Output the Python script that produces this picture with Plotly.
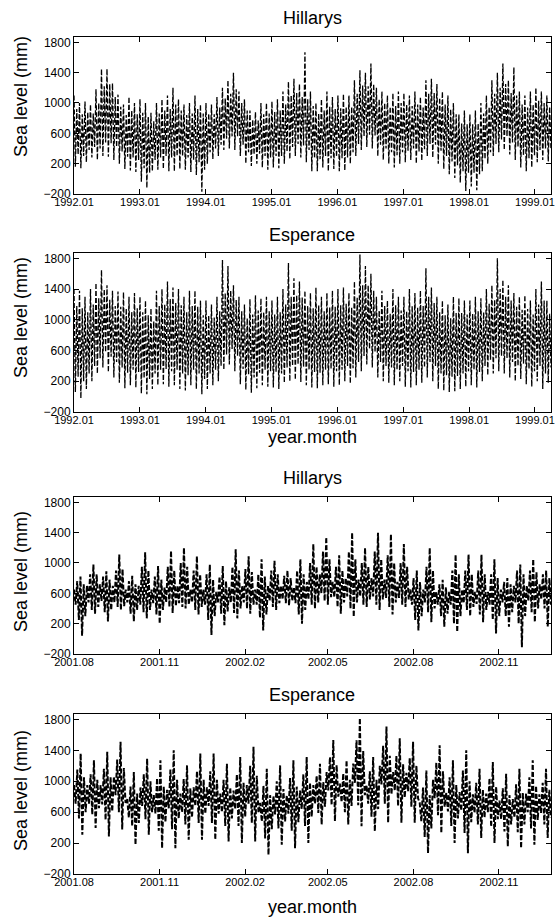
import plotly.graph_objects as go
import pandas as pd

# ---------------- tick labels ----------------
long_tick_text = ["1992.01", "1993.01", "1994.01", "1995.01", "1996.01", "1997.01", "1998.01", "1999.01"]
long_tick_vals = ["1992-01-01", "1993-01-01", "1994-01-01", "1995-01-01", "1996-01-01", "1997-01-01", "1998-01-01", "1999-01-01"]
long_range = ["1992-01-01", "1999-03-31"]

short_tick_text = ["2001.08", "2001.11", "2002.02", "2002.05", "2002.08", "2002.11"]
short_tick_vals = ["2001-08-01", "2001-11-01", "2002-02-01", "2002-05-01", "2002-08-01", "2002-11-01"]
short_range = ["2001-08-01", "2002-12-27"]

y_tick_vals = [-200, 200, 600, 1000, 1400, 1800]

# ---------------- sea level readings (mm), successive high / low tide extremes ----------------
hillarys_1992_1999 = [
    1100, 160, 920, 320, 1000, 140, 850, 300, 1020, 220, 880, 380, 980, 280, 860, 420, 1180, 250, 1000, 400, 1450, 300, 1220, 480,
    1450, 290, 1250, 470, 1260, 250, 1080, 420, 1110, 200, 950, 360, 980, 130, 840, 290, 1080, 110, 900, 280, 1000, 90, 850, 250,
    1050, -40, 870, 140, 1000, -120, 820, 80, 870, 100, 760, 250, 1000, 120, 860, 280, 1050, 130, 900, 300, 1100, 100, 920, 280,
    1200, 100, 980, 300, 1050, 130, 900, 300, 980, 120, 840, 280, 1000, 90, 860, 250, 1100, 50, 920, 220, 980, -170, 860, 120,
    1000, 200, 860, 350, 980, 260, 850, 400, 1080, 300, 940, 450, 1200, 380, 1060, 530, 1300, 400, 1120, 560, 1400, 380, 1180, 560,
    1150, 300, 1000, 450, 1050, 200, 900, 350, 900, 170, 780, 320, 880, 200, 770, 330, 1000, 150, 850, 300, 1000, 120, 860, 280,
    1020, 150, 880, 300, 1050, 140, 900, 300, 1150, 200, 980, 360, 1280, 260, 1100, 420, 1320, 300, 1130, 460, 1250, 280, 1080, 440,
    1670, 220, 1050, 380, 1150, 100, 960, 270, 1000, 100, 860, 260, 1050, 150, 900, 300, 1150, 100, 950, 270, 1080, 130, 920, 290,
    1100, 100, 930, 270, 1120, 110, 950, 280, 1100, 200, 950, 350, 1300, 300, 1120, 460, 1430, 380, 1230, 560, 1400, 420, 1220, 580,
    1520, 400, 1250, 570, 1200, 300, 1050, 450, 1150, 250, 1000, 400, 1100, 200, 950, 350, 1130, 150, 960, 310, 1150, 200, 1000, 350,
    1130, 220, 980, 370, 1100, 250, 960, 400, 1150, 200, 980, 360, 1080, 240, 940, 390, 1300, 300, 1120, 460, 1320, 280, 1130, 450,
    1250, 200, 1070, 370, 1150, 130, 980, 300, 1100, 60, 920, 230, 1000, 10, 850, 180, 850, -50, 730, 100, 900, -160, 720, 80,
    850, -100, 720, 80, 900, -150, 730, 60, 1000, 100, 860, 260, 1100, 200, 950, 350, 1300, 300, 1120, 460, 1400, 350, 1200, 520,
    1520, 380, 1250, 560, 1300, 320, 1130, 480, 1470, 250, 1100, 420, 1150, 150, 980, 310, 1100, 100, 940, 270, 1150, 150, 980, 310,
    1200, 220, 1030, 380, 1150, 250, 1000, 400, 1100, 230, 950, 380,
]

esperance_1992_1999 = [
    1400, 60, 1180, 260, 1380, -20, 1150, 200, 1300, 100, 1100, 300, 1400, 200, 1200, 400, 1480, 300, 1280, 500, 1650, 380, 1400, 580,
    1450, 320, 1260, 520, 1380, 250, 1180, 450, 1370, 180, 1170, 380, 1360, 110, 1150, 310, 1300, 150, 1100, 350, 1350, 120, 1150, 320,
    1300, 40, 1100, 240, 1250, 30, 1060, 230, 1150, 100, 980, 300, 1380, 150, 1180, 350, 1400, 160, 1200, 360, 1500, 130, 1270, 330,
    1420, 150, 1220, 350, 1400, 100, 1190, 300, 1300, 80, 1100, 280, 1380, 150, 1180, 350, 1380, 100, 1170, 300, 1250, 30, 1060, 230,
    1250, 100, 1060, 300, 1200, 150, 1030, 350, 1300, 200, 1110, 400, 1780, 350, 1350, 550, 1700, 420, 1380, 620, 1450, 330, 1260, 530,
    1300, 160, 1110, 360, 1200, 90, 1020, 290, 1270, 50, 1070, 250, 1320, 110, 1120, 310, 1280, 150, 1100, 350, 1300, 130, 1110, 330,
    1250, 120, 1070, 320, 1300, 100, 1100, 300, 1400, 180, 1200, 380, 1740, 200, 1300, 400, 1540, 220, 1320, 420, 1500, 190, 1290, 390,
    1380, 150, 1180, 350, 1350, 120, 1150, 320, 1420, 110, 1190, 310, 1300, 150, 1110, 350, 1350, 160, 1160, 360, 1380, 130, 1170, 330,
    1400, 150, 1190, 350, 1420, 200, 1210, 400, 1350, 170, 1160, 370, 1500, 250, 1290, 450, 1850, 330, 1450, 530, 1700, 420, 1450, 620,
    1600, 380, 1380, 580, 1300, 250, 1120, 450, 1380, 200, 1180, 400, 1250, 180, 1080, 380, 1400, 150, 1190, 350, 1300, 200, 1120, 400,
    1300, 130, 1110, 330, 1400, 120, 1180, 320, 1350, 150, 1160, 350, 1380, 180, 1180, 380, 1670, 250, 1300, 450, 1420, 200, 1220, 400,
    1300, 100, 1100, 300, 1250, 80, 1060, 280, 1200, 60, 1020, 260, 1300, 70, 1090, 270, 1280, 100, 1090, 300, 1250, 130, 1070, 330,
    1250, 150, 1080, 350, 1300, 120, 1110, 320, 1280, 200, 1100, 400, 1400, 280, 1210, 480, 1450, 300, 1260, 500, 1800, 330, 1400, 530,
    1520, 300, 1300, 500, 1450, 250, 1250, 450, 1350, 200, 1170, 400, 1300, 230, 1130, 430, 1320, 160, 1140, 360, 1250, 130, 1070, 330,
    1400, 200, 1200, 400, 1500, 100, 1250, 300, 1250, 180, 1080, 380,
]

hillarys_2001_2002 = [
    650, 450, 760, 250, 820, 40, 720, 300,
    700, 480, 850, 380, 980, 330, 850, 420,
    720, 500, 820, 350, 890, 230, 780, 380,
    700, 480, 900, 420, 1110, 380, 920, 430,
    650, 480, 760, 330, 830, 230, 720, 380,
    700, 450, 950, 350, 1140, 270, 900, 380,
    650, 470, 820, 320, 960, 200, 780, 380,
    680, 480, 950, 420, 1160, 340, 900, 430,
    700, 470, 1000, 420, 1200, 400, 950, 450,
    650, 480, 900, 380, 1090, 320, 850, 420,
    650, 450, 850, 250, 980, 50, 780, 300,
    620, 480, 820, 330, 960, 180, 760, 360,
    680, 480, 950, 340, 1180, 270, 900, 400,
    700, 480, 920, 400, 1090, 330, 880, 450,
    650, 450, 850, 280, 1050, 110, 820, 320,
    700, 500, 900, 420, 1030, 380, 850, 470,
    700, 520, 830, 470, 900, 440, 800, 500,
    680, 470, 900, 320, 1050, 200, 850, 380,
    750, 520, 1000, 450, 1250, 400, 950, 480,
    850, 600, 1150, 500, 1340, 450, 1050, 550,
    750, 550, 950, 420, 1100, 330, 900, 480,
    800, 560, 1150, 400, 1400, 290, 1050, 480,
    780, 560, 1000, 450, 1200, 420, 950, 520,
    800, 560, 1150, 450, 1400, 380, 1050, 520,
    780, 540, 1100, 420, 1380, 320, 1000, 480,
    750, 540, 1000, 450, 1250, 420, 950, 520,
    650, 450, 800, 250, 900, 110, 750, 300,
    650, 480, 950, 350, 1200, 220, 900, 400,
    620, 450, 720, 300, 780, 160, 680, 330,
    620, 450, 900, 200, 1110, 90, 850, 300,
    650, 470, 900, 380, 1110, 300, 850, 420,
    620, 460, 900, 320, 1110, 220, 850, 380,
    620, 450, 850, 250, 1050, 70, 800, 300,
    650, 480, 750, 300, 800, 160, 720, 350,
    700, 480, 900, 200, 980, -110, 850, 300,
    700, 500, 900, 350, 1050, 220, 880, 400,
    720, 520, 850, 400, 900, 160, 800, 450,
]

esperance_2001_2002 = [
    950, 710, 1150, 520, 1358, 309, 1050, 600,
    950, 710, 1090, 570, 1270, 397, 1020, 650,
    950, 700, 1160, 500, 1380, 287, 1050, 610,
    1060, 820, 1280, 600, 1511, 375, 1170, 720,
    770, 530, 930, 420, 1118, 178, 840, 460,
    920, 680, 1090, 510, 1292, 309, 1000, 600,
    820, 580, 1040, 360, 1270, 134, 930, 470,
    890, 650, 1150, 380, 1402, 134, 1020, 520,
    840, 600, 1030, 440, 1205, 244, 910, 530,
    920, 680, 1130, 460, 1358, 244, 1020, 580,
    920, 680, 1130, 460, 1358, 244, 1020, 580,
    840, 600, 1020, 420, 1227, 222, 920, 520,
    880, 640, 1090, 420, 1314, 200, 980, 540,
    950, 710, 1200, 460, 1445, 222, 1070, 590,
    720, 480, 940, 260, 1161, 47, 820, 380,
    810, 570, 1000, 390, 1205, 178, 900, 480,
    820, 580, 1040, 360, 1270, 134, 930, 470,
    880, 640, 1090, 420, 1314, 200, 980, 540,
    950, 710, 1070, 590, 1227, 440, 990, 670,
    1120, 880, 1310, 690, 1533, 484, 1210, 800,
    970, 730, 1100, 600, 1270, 440, 1020, 680,
    1230, 980, 1530, 690, 1817, 418, 1390, 820,
    950, 710, 1130, 540, 1314, 353, 1020, 640,
    1200, 960, 1460, 710, 1708, 462, 1330, 830,
    1120, 880, 1330, 680, 1555, 462, 1220, 790,
    1110, 870, 1300, 670, 1511, 462, 1200, 780,
    720, 480, 920, 280, 1139, 69, 820, 390,
    1020, 780, 1240, 560, 1467, 331, 1130, 670,
    850, 610, 1050, 420, 1270, 200, 950, 520,
    860, 620, 1140, 330, 1402, 69, 1000, 470,
    830, 590, 980, 440, 1161, 265, 890, 530,
    840, 600, 1040, 410, 1249, 200, 930, 510,
    750, 510, 910, 350, 1096, 156, 820, 440,
    770, 530, 960, 340, 1161, 134, 850, 440,
    840, 600, 1050, 390, 1270, 178, 940, 500,
    830, 590, 980, 440, 1161, 265, 890, 530,
]

panels = [
    ("Hillarys", hillarys_1992_1999, long_range, long_tick_vals, long_tick_text, 1.3),
    ("Esperance", esperance_1992_1999, long_range, long_tick_vals, long_tick_text, 1.3),
    ("Hillarys", hillarys_2001_2002, short_range, short_tick_vals, short_tick_text, 2.0),
    ("Esperance", esperance_2001_2002, short_range, short_tick_vals, short_tick_text, 2.0),
]

W, H = 556, 922
FONT = "Liberation Sans, Arial, Helvetica, sans-serif"

# plot boxes in pixels: (left, top, right, bottom)
boxes = [(74, 37, 551, 194), (74, 253, 551, 412), (74, 497, 551, 654), (74, 714, 551, 874)]
title_y = [18, 235, 478, 695]
ylabel_y = [97, 318, 572, 791]
xlabel_y = {1: 437, 3: 907}

fig = go.Figure()
layout = dict(
    width=W, height=H,
    margin=dict(l=0, r=0, t=0, b=0, autoexpand=False),
    paper_bgcolor="white", plot_bgcolor="white",
    showlegend=False,
    font=dict(family=FONT, color="black", size=12),
    annotations=[],
)

for i, (name, vals, xr, tv, tt, lw) in enumerate(panels):
    n = i + 1
    x = pd.date_range(xr[0], xr[1], periods=len(vals))
    fig.add_trace(go.Scatter(
        x=x, y=vals, mode="lines",
        line=dict(color="black", width=lw, dash="5px,2px"),
        xaxis="x" if n == 1 else f"x{n}", yaxis="y" if n == 1 else f"y{n}",
        hoverinfo="skip",
    ))
    l, t, r, b = boxes[i]
    xa = "xaxis" if n == 1 else f"xaxis{n}"
    ya = "yaxis" if n == 1 else f"yaxis{n}"
    layout[xa] = dict(
        domain=[l / W, r / W], anchor="y" if n == 1 else f"y{n}",
        type="date", range=xr, tickmode="array", tickvals=tv, ticktext=tt,
        ticks="inside", ticklen=5, tickwidth=1, tickcolor="black",
        showline=True, linecolor="black", linewidth=1, mirror="ticks",
        showgrid=False, zeroline=False, automargin=False,
        ticklabeloverflow="allow", ticklabelstandoff=-2,
        tickfont=dict(size=11, color="black", family=FONT),
    )
    layout[ya] = dict(
        domain=[1 - b / H, 1 - t / H], anchor="x" if n == 1 else f"x{n}",
        range=[-200, 1870], tickmode="array", tickvals=y_tick_vals,
        ticks="inside", ticklen=5, tickwidth=1, tickcolor="black",
        showline=True, linecolor="black", linewidth=1, mirror="ticks",
        showgrid=False, zeroline=False, automargin=False, ticklabeloverflow="allow",
        tickfont=dict(size=12, color="black", family=FONT),
    )
    layout["annotations"].append(dict(
        text=name, x=(l + r) / 2 / W, y=1 - title_y[i] / H, xref="paper", yref="paper",
        xanchor="center", yanchor="middle", showarrow=False, font=dict(size=18, family=FONT),
    ))
    layout["annotations"].append(dict(
        text="Sea level (mm)", x=21 / W, y=1 - ylabel_y[i] / H, xref="paper", yref="paper",
        xanchor="center", yanchor="middle", textangle=-90, showarrow=False, font=dict(size=18, family=FONT),
    ))
    if i in xlabel_y:
        layout["annotations"].append(dict(
            text="year.month", x=(l + r) / 2 / W, y=1 - xlabel_y[i] / H, xref="paper", yref="paper",
            xanchor="center", yanchor="middle", showarrow=False, font=dict(size=18, family=FONT),
        ))

fig.update_layout(**layout)
fig.write_html(
    "out.html",
    config={"displayModeBar": False, "staticPlot": True},
    post_script="document.body.style.margin='0';document.body.style.overflow='hidden';",
)
